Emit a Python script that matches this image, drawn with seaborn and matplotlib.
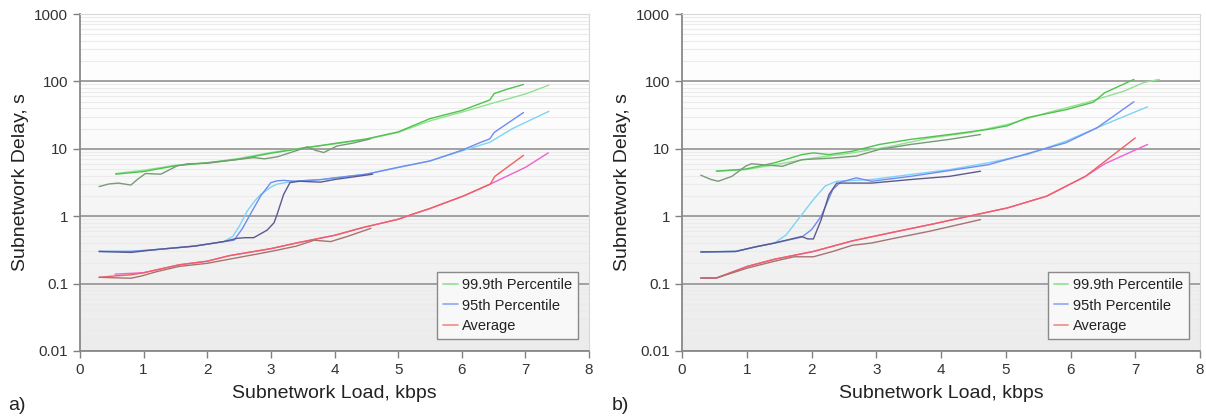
import numpy as np
import matplotlib
matplotlib.use("Agg")
import matplotlib.pyplot as plt
from matplotlib.colors import LinearSegmentedColormap
from matplotlib.lines import Line2D
import seaborn as sns

# ---- panel a) ----
a_x_999_long = [0.56, 1.0, 1.5, 2.0, 2.5, 3.0, 3.5, 4.0, 4.5, 5.0, 5.5, 6.0, 6.5, 7.0, 7.37]
a_y_999_long = [4.3, 4.8, 5.7, 6.2, 7.2, 8.8, 10.3, 11.8, 13.8, 17.5, 26, 35, 48, 65, 88]
a_x_999_mid = [0.56, 1.0, 1.5, 2.0, 2.5, 3.0, 3.5, 4.0, 4.5, 5.0, 5.5, 6.0, 6.44, 6.51, 6.7, 6.97]
a_y_999_mid = [4.2, 4.6, 5.6, 6.2, 7.0, 8.6, 10.2, 12, 14, 17.8, 28, 37, 53, 66, 76, 90]
a_x_999_short = [0.3, 0.45, 0.6, 0.8, 0.9, 1.03, 1.27, 1.53, 1.7, 2.0, 2.4, 2.73, 2.9,
                 3.1, 3.42, 3.57, 3.7, 3.83, 4.04, 4.3, 4.56]
a_y_999_short = [2.75, 3.0, 3.1, 2.9, 3.5, 4.3, 4.2, 5.6, 6.0, 6.1, 6.8, 7.4, 7.1,
                 7.6, 9.5, 10.7, 9.5, 8.8, 11.0, 12.2, 14]

a_x_95_long = [0.3, 0.8, 1.2, 1.8, 2.26, 2.4, 2.5, 2.63, 2.75, 2.84, 3.0, 3.1, 3.37, 3.8,
               4.0, 4.5, 5.0, 5.5, 6.0, 6.44, 6.8, 7.37]
a_y_95_long = [0.3, 0.3, 0.32, 0.36, 0.42, 0.5, 0.7, 1.2, 1.7, 2.1, 2.7, 3.0, 3.3, 3.5,
               3.7, 4.2, 5.3, 6.6, 9.3, 12.5, 20, 36]
a_x_95_mid = [0.3, 0.8, 1.2, 1.8, 2.26, 2.42, 2.55, 2.68, 2.84, 3.0, 3.1, 3.2, 3.37, 3.8,
              4.0, 4.5, 5.0, 5.5, 6.0, 6.3, 6.44, 6.51, 6.97]
a_y_95_mid = [0.3, 0.3, 0.32, 0.36, 0.42, 0.44, 0.65, 1.08, 2.0, 3.15, 3.35, 3.4, 3.3, 3.5,
              3.7, 4.2, 5.3, 6.6, 9.5, 12.5, 14, 17.5, 34.5]
a_x_95_short = [0.3, 0.8, 1.2, 1.8, 2.26, 2.47, 2.6, 2.73, 2.94, 3.05, 3.1, 3.2, 3.3,
                3.45, 3.78, 4.0, 4.4, 4.6]
a_y_95_short = [0.3, 0.29, 0.32, 0.36, 0.42, 0.47, 0.48, 0.48, 0.62, 0.8, 1.08, 2.1, 3.15,
                3.3, 3.2, 3.5, 3.95, 4.2]

a_x_avg_long = [0.55, 1.0, 1.56, 2.0, 2.35, 3.0, 3.4, 4.0, 4.45, 5.0, 5.24, 5.5, 6.03,
                6.45, 7.0, 7.36]
a_y_avg_long = [0.138, 0.145, 0.19, 0.215, 0.26, 0.33, 0.40, 0.52, 0.68, 0.9, 1.08, 1.3,
                2.0, 3.0, 5.3, 8.7]
a_x_avg_mid = [0.3, 0.55, 0.8, 1.0, 1.56, 2.0, 2.35, 3.0, 3.4, 4.0, 4.45, 5.0, 5.24, 5.5,
               6.03, 6.45, 6.52, 6.97]
a_y_avg_mid = [0.124, 0.13, 0.135, 0.145, 0.19, 0.215, 0.26, 0.33, 0.40, 0.52, 0.68, 0.9,
               1.08, 1.3, 2.0, 3.0, 3.9, 8.0]
a_x_avg_short = [0.3, 0.55, 0.8, 0.97, 1.2, 1.56, 2.0, 2.5, 3.0, 3.4, 3.68, 3.94, 4.2, 4.57]
a_y_avg_short = [0.124, 0.122, 0.12, 0.13, 0.15, 0.18, 0.2, 0.245, 0.3, 0.36, 0.44, 0.42,
                 0.5, 0.66]

# ---- panel b) ----
b_x_999_long = [0.53, 0.98, 1.43, 2.03, 2.63, 3.23, 3.83, 4.43, 5.03, 5.63, 6.23, 6.83,
                7.13, 7.37]
b_y_999_long = [4.66, 4.9, 5.8, 7.3, 8.7, 10.9, 14.5, 17.3, 23, 34, 48, 72, 96, 107]
b_x_999_mid = [0.53, 0.98, 1.43, 1.85, 2.03, 2.27, 2.63, 3.05, 3.53, 4.13, 4.73, 5.03,
               5.33, 5.93, 6.35, 6.53, 6.98]
b_y_999_mid = [4.66, 5.0, 6.2, 8.2, 8.7, 8.2, 9.2, 11.6, 13.8, 16.3, 19.4, 22, 29, 38,
               49, 68, 107]
b_x_999_short = [0.29, 0.45, 0.56, 0.77, 0.98, 1.07, 1.25, 1.55, 1.85, 2.33, 2.69, 3.05,
                 3.53, 4.13, 4.61]
b_y_999_short = [4.06, 3.5, 3.3, 3.9, 5.5, 6.0, 5.8, 5.5, 6.9, 7.3, 7.8, 9.8, 11.6,
                 13.8, 16.3]

b_x_95_long = [0.29, 0.83, 1.13, 1.43, 1.61, 1.79, 2.03, 2.21, 2.39, 2.93, 3.53, 4.13,
               4.73, 5.33, 5.93, 6.53, 7.19]
b_y_95_long = [0.295, 0.3, 0.35, 0.4, 0.53, 0.89, 1.77, 2.8, 3.3, 3.5, 4.15, 4.9, 6.2,
               8.2, 13, 23, 42]
b_x_95_mid = [0.29, 0.83, 1.13, 1.43, 1.85, 2.0, 2.15, 2.33, 2.45, 2.69, 2.93, 3.53, 4.73,
              5.93, 6.41, 6.98]
b_y_95_mid = [0.295, 0.3, 0.35, 0.4, 0.49, 0.63, 1.0, 2.5, 3.2, 3.7, 3.3, 3.9, 5.8, 12.3,
              20.5, 50]
b_x_95_short = [0.29, 0.83, 1.13, 1.43, 1.85, 1.94, 2.03, 2.15, 2.27, 2.39, 2.93, 3.53,
                4.13, 4.61]
b_y_95_short = [0.295, 0.3, 0.35, 0.4, 0.5, 0.46, 0.46, 0.89, 2.1, 3.1, 3.1, 3.5, 3.9,
                4.65]

b_x_avg_long = [0.29, 0.53, 1.01, 1.43, 2.03, 2.63, 3.23, 3.83, 4.43, 5.03, 5.63, 6.23,
                6.53, 7.19]
b_y_avg_long = [0.121, 0.121, 0.18, 0.23, 0.30, 0.43, 0.57, 0.75, 1.0, 1.33, 1.98, 3.9,
                6.0, 11.6]
b_x_avg_mid = [0.29, 0.53, 1.01, 1.43, 2.03, 2.63, 3.23, 3.83, 4.43, 5.03, 5.63, 6.23,
               6.53, 7.0]
b_y_avg_mid = [0.121, 0.121, 0.18, 0.23, 0.30, 0.43, 0.57, 0.75, 1.0, 1.33, 1.98, 3.9,
               6.5, 14.5]
b_x_avg_short = [0.29, 0.53, 1.01, 1.43, 1.73, 2.03, 2.33, 2.63, 2.93, 3.23, 3.83, 4.61]
b_y_avg_short = [0.121, 0.121, 0.17, 0.215, 0.25, 0.25, 0.30, 0.37, 0.40, 0.46, 0.60, 0.89]

legend_labels = ["99.9th Percentile", "95th Percentile", "Average"]
legend_colors = ["#8ee08e", "#8fa6f2", "#f28a8a"]

# line colours: (long run, mid run, short run)
green_cols = ["#8fe38f", "#4fc24f", "#789a78"]
blue_cols = ["#7fd3f5", "#6f8cf0", "#5c5a8c"]
red_cols = ["#f060d0", "#f06060", "#a87272"]

sns.set_style("white")
plt.rcParams["font.family"] = ["Liberation Sans", "DejaVu Sans"]
plt.rcParams["text.color"] = "#222222"

fig = plt.figure(figsize=(12.06, 4.18), dpi=100)
W, H = 1206, 418
ax_a = fig.add_axes([80 / W, 1 - 351 / H, (589 - 80) / W, (351 - 14) / H])
ax_b = fig.add_axes([682 / W, 1 - 351 / H, (1200 - 682) / W, (351 - 14) / H])

# white at the top fading to a pale grey at the bottom
bg = LinearSegmentedColormap.from_list("bg", ["#ffffff", "#fcfcfc", "#f3f3f3", "#ececec"])
grad = np.linspace(0, 1, 256).reshape(-1, 1)


def draw_panel(ax, series, tag, tag_x):
    ax.set_yscale("log")
    ax.set_xlim(0, 8)
    ax.set_ylim(0.01, 1000)
    ax.imshow(grad, extent=[0, 1, 0, 1], origin="upper", transform=ax.transAxes,
              aspect="auto", cmap=bg, zorder=0)
    ax.yaxis.set_minor_locator(matplotlib.ticker.LogLocator(base=10, subs=np.arange(2, 10)))
    ax.grid(True, which="minor", axis="y", color="#ebebeb", lw=0.8, zorder=1)
    ax.grid(True, which="major", axis="y", color="#9a9a9a", lw=1.3, zorder=1)
    ax.grid(False, axis="x")
    for (xs, ys, col) in series:
        sns.lineplot(x=xs, y=ys, ax=ax, color=col, lw=1.0, zorder=3, sort=False)
    ax.set_xticks(range(0, 9))
    ax.set_yticks([0.01, 0.1, 1, 10, 100, 1000])
    ax.set_yticklabels(["0.01", "0.1", "1", "10", "100", "1000"])
    ax.tick_params(axis="both", which="major", direction="out", length=5, width=1,
                   color="#808080", labelsize=11, labelcolor="#333333", left=True, bottom=True)
    ax.tick_params(axis="y", which="minor", left=False)
    for s in ["left", "bottom"]:
        ax.spines[s].set_color("#888888")
        ax.spines[s].set_linewidth(1.3)
    for s in ["top", "right"]:
        ax.spines[s].set_color("#d8d8d8")
        ax.spines[s].set_linewidth(0.8)
    ax.set_xlabel("Subnetwork Load, kbps", fontsize=14, color="#222222", labelpad=6)
    ax.set_ylabel("Subnetwork Delay, s", fontsize=14, color="#222222", labelpad=4)
    handles = [Line2D([], [], color=c, lw=1.2) for c in legend_colors]
    leg = ax.legend(handles, legend_labels, loc="lower right",
                    bbox_to_anchor=(1 - 11 / 509, 12 / 337), borderaxespad=0,
                    fontsize=10.5, fancybox=False, framealpha=1, facecolor="#f8f8f8",
                    edgecolor="#8a8a8a", handlelength=1.0, handletextpad=0.3,
                    labelspacing=0.45, borderpad=0.4)
    leg.get_frame().set_linewidth(1.0)
    leg.set_zorder(5)
    fig.text(tag_x / W, 1 - 405 / H, tag, fontsize=14, color="#222222",
             ha="left", va="center")


draw_panel(ax_a, [
    (a_x_999_long, a_y_999_long, green_cols[0]),
    (a_x_999_mid, a_y_999_mid, green_cols[1]),
    (a_x_999_short, a_y_999_short, green_cols[2]),
    (a_x_95_long, a_y_95_long, blue_cols[0]),
    (a_x_95_mid, a_y_95_mid, blue_cols[1]),
    (a_x_95_short, a_y_95_short, blue_cols[2]),
    (a_x_avg_long, a_y_avg_long, red_cols[0]),
    (a_x_avg_mid, a_y_avg_mid, red_cols[1]),
    (a_x_avg_short, a_y_avg_short, red_cols[2]),
], "a)", 8)

draw_panel(ax_b, [
    (b_x_999_long, b_y_999_long, green_cols[0]),
    (b_x_999_mid, b_y_999_mid, green_cols[1]),
    (b_x_999_short, b_y_999_short, green_cols[2]),
    (b_x_95_long, b_y_95_long, blue_cols[0]),
    (b_x_95_mid, b_y_95_mid, blue_cols[1]),
    (b_x_95_short, b_y_95_short, blue_cols[2]),
    (b_x_avg_long, b_y_avg_long, red_cols[0]),
    (b_x_avg_mid, b_y_avg_mid, red_cols[1]),
    (b_x_avg_short, b_y_avg_short, red_cols[2]),
], "b)", 612)

fig.savefig("out.png", dpi=100)
